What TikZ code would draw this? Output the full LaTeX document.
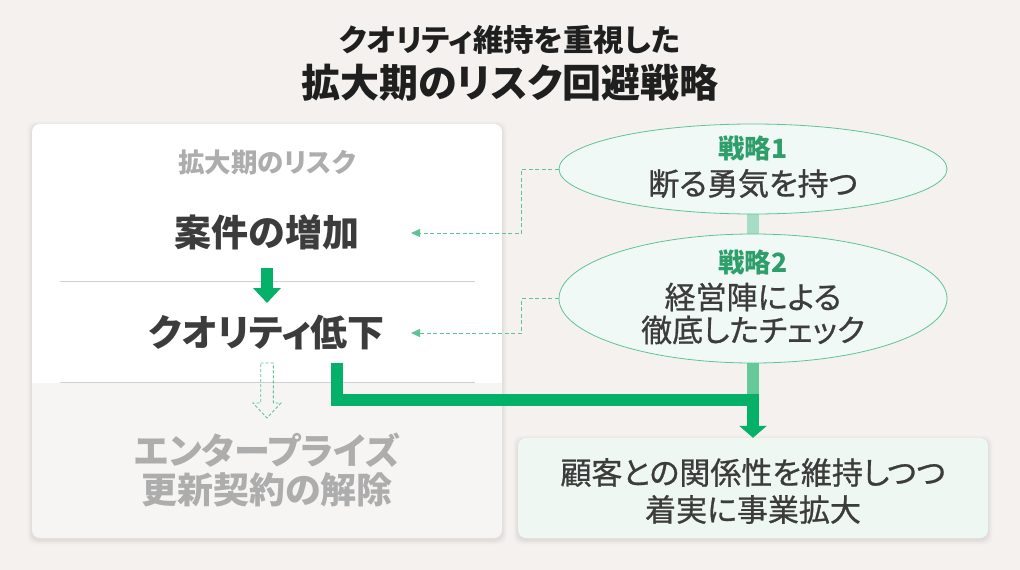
\documentclass[tikz,border=0pt]{standalone}
\usepackage{fontspec}
\setmainfont{Noto Sans CJK JP}[RawFeature=+palt]
\newfontfamily\cjkmed{Noto Sans CJK JP}[RawFeature=+palt,FakeBold=0.8]
\usetikzlibrary{shapes.geometric,arrows.meta}
\definecolor{bg}{HTML}{F4F1EE}
\definecolor{cardlow}{HTML}{F7F5F3}
\definecolor{gr}{HTML}{05B068}
\definecolor{grtxt}{HTML}{2E9E6B}
\definecolor{grline}{HTML}{5EC496}
\definecolor{grfill}{HTML}{F0F9F5}
\definecolor{barlight}{HTML}{A6DDC4}
\definecolor{barmid}{HTML}{66C99A}
\definecolor{dark}{HTML}{3C3C3C}
\definecolor{ttl}{HTML}{1F1F1F}
\definecolor{greytxt}{HTML}{ADADAD}
\definecolor{boxfill}{HTML}{EFF7F3}
\definecolor{divc}{HTML}{CFCFCF}
\tikzset{
  titleA/.style={font=\fontsize{30.5}{34}\selectfont\bfseries, text=ttl, inner sep=0},
  titleB/.style={font=\fontsize{39}{44}\selectfont\bfseries, text=ttl, inner sep=0},
  cardhead/.style={font=\fontsize{26.5}{30}\selectfont\bfseries, text=greytxt, inner sep=0},
  cardmain/.style={font=\fontsize{37}{42}\selectfont\bfseries, text=dark, inner sep=0},
  cardgrey/.style={font=\fontsize{36}{40}\selectfont\bfseries, text=greytxt, inner sep=0},
  stratlabel/.style={font=\fontsize{26.5}{30}\selectfont\bfseries, text=grtxt, inner sep=0},
  strattext/.style={font=\fontsize{31}{36}\cjkmed, text=dark, inner sep=0},
  boxtext/.style={font=\fontsize{31}{36}\cjkmed, text=dark, inner sep=0},
  stratell/.style={ellipse, draw=grline, fill=grfill, line width=0.8pt, minimum width=388pt, inner sep=0},
  resultbox/.style={rectangle, rounded corners=8pt, fill=boxfill, minimum width=470pt, minimum height=100pt, inner sep=0},
  dashconn/.style={draw=grline, line width=1pt, dash pattern=on 4pt off 2.5pt, -{Triangle[width=8pt,length=9pt]}},
  mainflow/.style={draw=gr, line width=12.5pt, line join=miter, -{Triangle[width=27pt,length=12pt]}},
  stepflow/.style={draw=gr, line width=12.6pt, -{Triangle[width=27pt,length=15pt]}},
}
\begin{document}
\begin{tikzpicture}[x=1pt,y=-1pt]
\fill[bg] (0,0) rectangle (1020,570);
\useasboundingbox (0,0) rectangle (1020,570);
% titles
\node[titleA] (t1) at (510,40) {クオリティ維持を重視した};
\node[titleB] (t2) at (510,82.5) {拡大期のリスク回避戦略};
% card shadow
\foreach \i/\o in {1/0.025,2/0.02,3/0.015,4/0.01,5/0.008}{
  \fill[black,opacity=\o,rounded corners=8pt] (32-\i,124-\i+2) rectangle (502+\i,538+\i+2);
}
\foreach \i/\o in {1/0.025,2/0.02,3/0.015,4/0.01,5/0.008}{
  \fill[black,opacity=\o,rounded corners=8pt] (518-\i,438-\i+2) rectangle (988+\i,538+\i+2);
}
% card
\fill[cardlow,rounded corners=8pt] (32,124) rectangle (502,538);
\begin{scope}
  \clip[rounded corners=8pt] (32,124) rectangle (502,538);
  \fill[white] (32,124) rectangle (502,383);
\end{scope}
\draw[divc,line width=1pt] (60,281) -- (475,281);
\draw[divc,line width=1pt] (60,382.5) -- (475,382.5);
\node[cardhead] (ch) at (267,162) {拡大期のリスク};
\node[cardmain] (c1) at (267,232) {案件の増加};
\node[cardmain] (c2) at (267,332) {クオリティ低下};
\node[cardgrey] (c3) at (267,450) {エンタープライズ};
\node[cardgrey] (c4) at (267,490) {更新契約の解除};
% step arrow
\coordinate (s1) at (267,268);
\coordinate (s2) at (267,303);
\draw[stepflow] (s1) -- (s2);
% hollow dashed arrow
\draw[grline,line width=0.9pt,dash pattern=on 3pt off 2pt,line join=miter]
  (260.7,363) -- (273.3,363) -- (273.3,403) -- (281,403) -- (267,418) -- (253,403) -- (260.7,403) -- cycle;
% strategies
\draw[barlight,line width=12.6pt] (753,214) -- (753,234);
\draw[barmid,line width=12.6pt] (753,363) -- (753,400);
\node[stratell, minimum height=90pt] (e1) at (753,169) {};
\node[stratell, minimum height=129pt] (e2) at (753,298.5) {};
\node[stratlabel] (l1) at (753,148.5) {戦略1};
\node[strattext] (x1) at (753,183.5) {断る勇気を持つ};
\node[stratlabel] (l2) at (753,262) {戦略2};
\node[strattext] (x2) at (753,297) {経営陣による};
\node[strattext] (x3) at (753,330) {徹底したチェック};
% dashed links
\coordinate (a1) at (411,233);
\coordinate (a2) at (411,333);
\draw[dashconn] (e1.west) -- ++(-37,0) |- (a1);
\draw[dashconn] (e2.west) -- ++(-37,0) |- (a2);
% result box
\node[resultbox] (rb) at (753,488) {};
\node[boxtext] (r1) at (753,472.5) {顧客との関係性を維持しつつ};
\node[boxtext] (r2) at (753,509.5) {着実に事業拡大};
% main flow
\coordinate (q1) at (337,363);
\coordinate (j) at (753,400);
\draw[mainflow] (q1) |- (j) -- (rb.north);
\end{tikzpicture}
\end{document}
